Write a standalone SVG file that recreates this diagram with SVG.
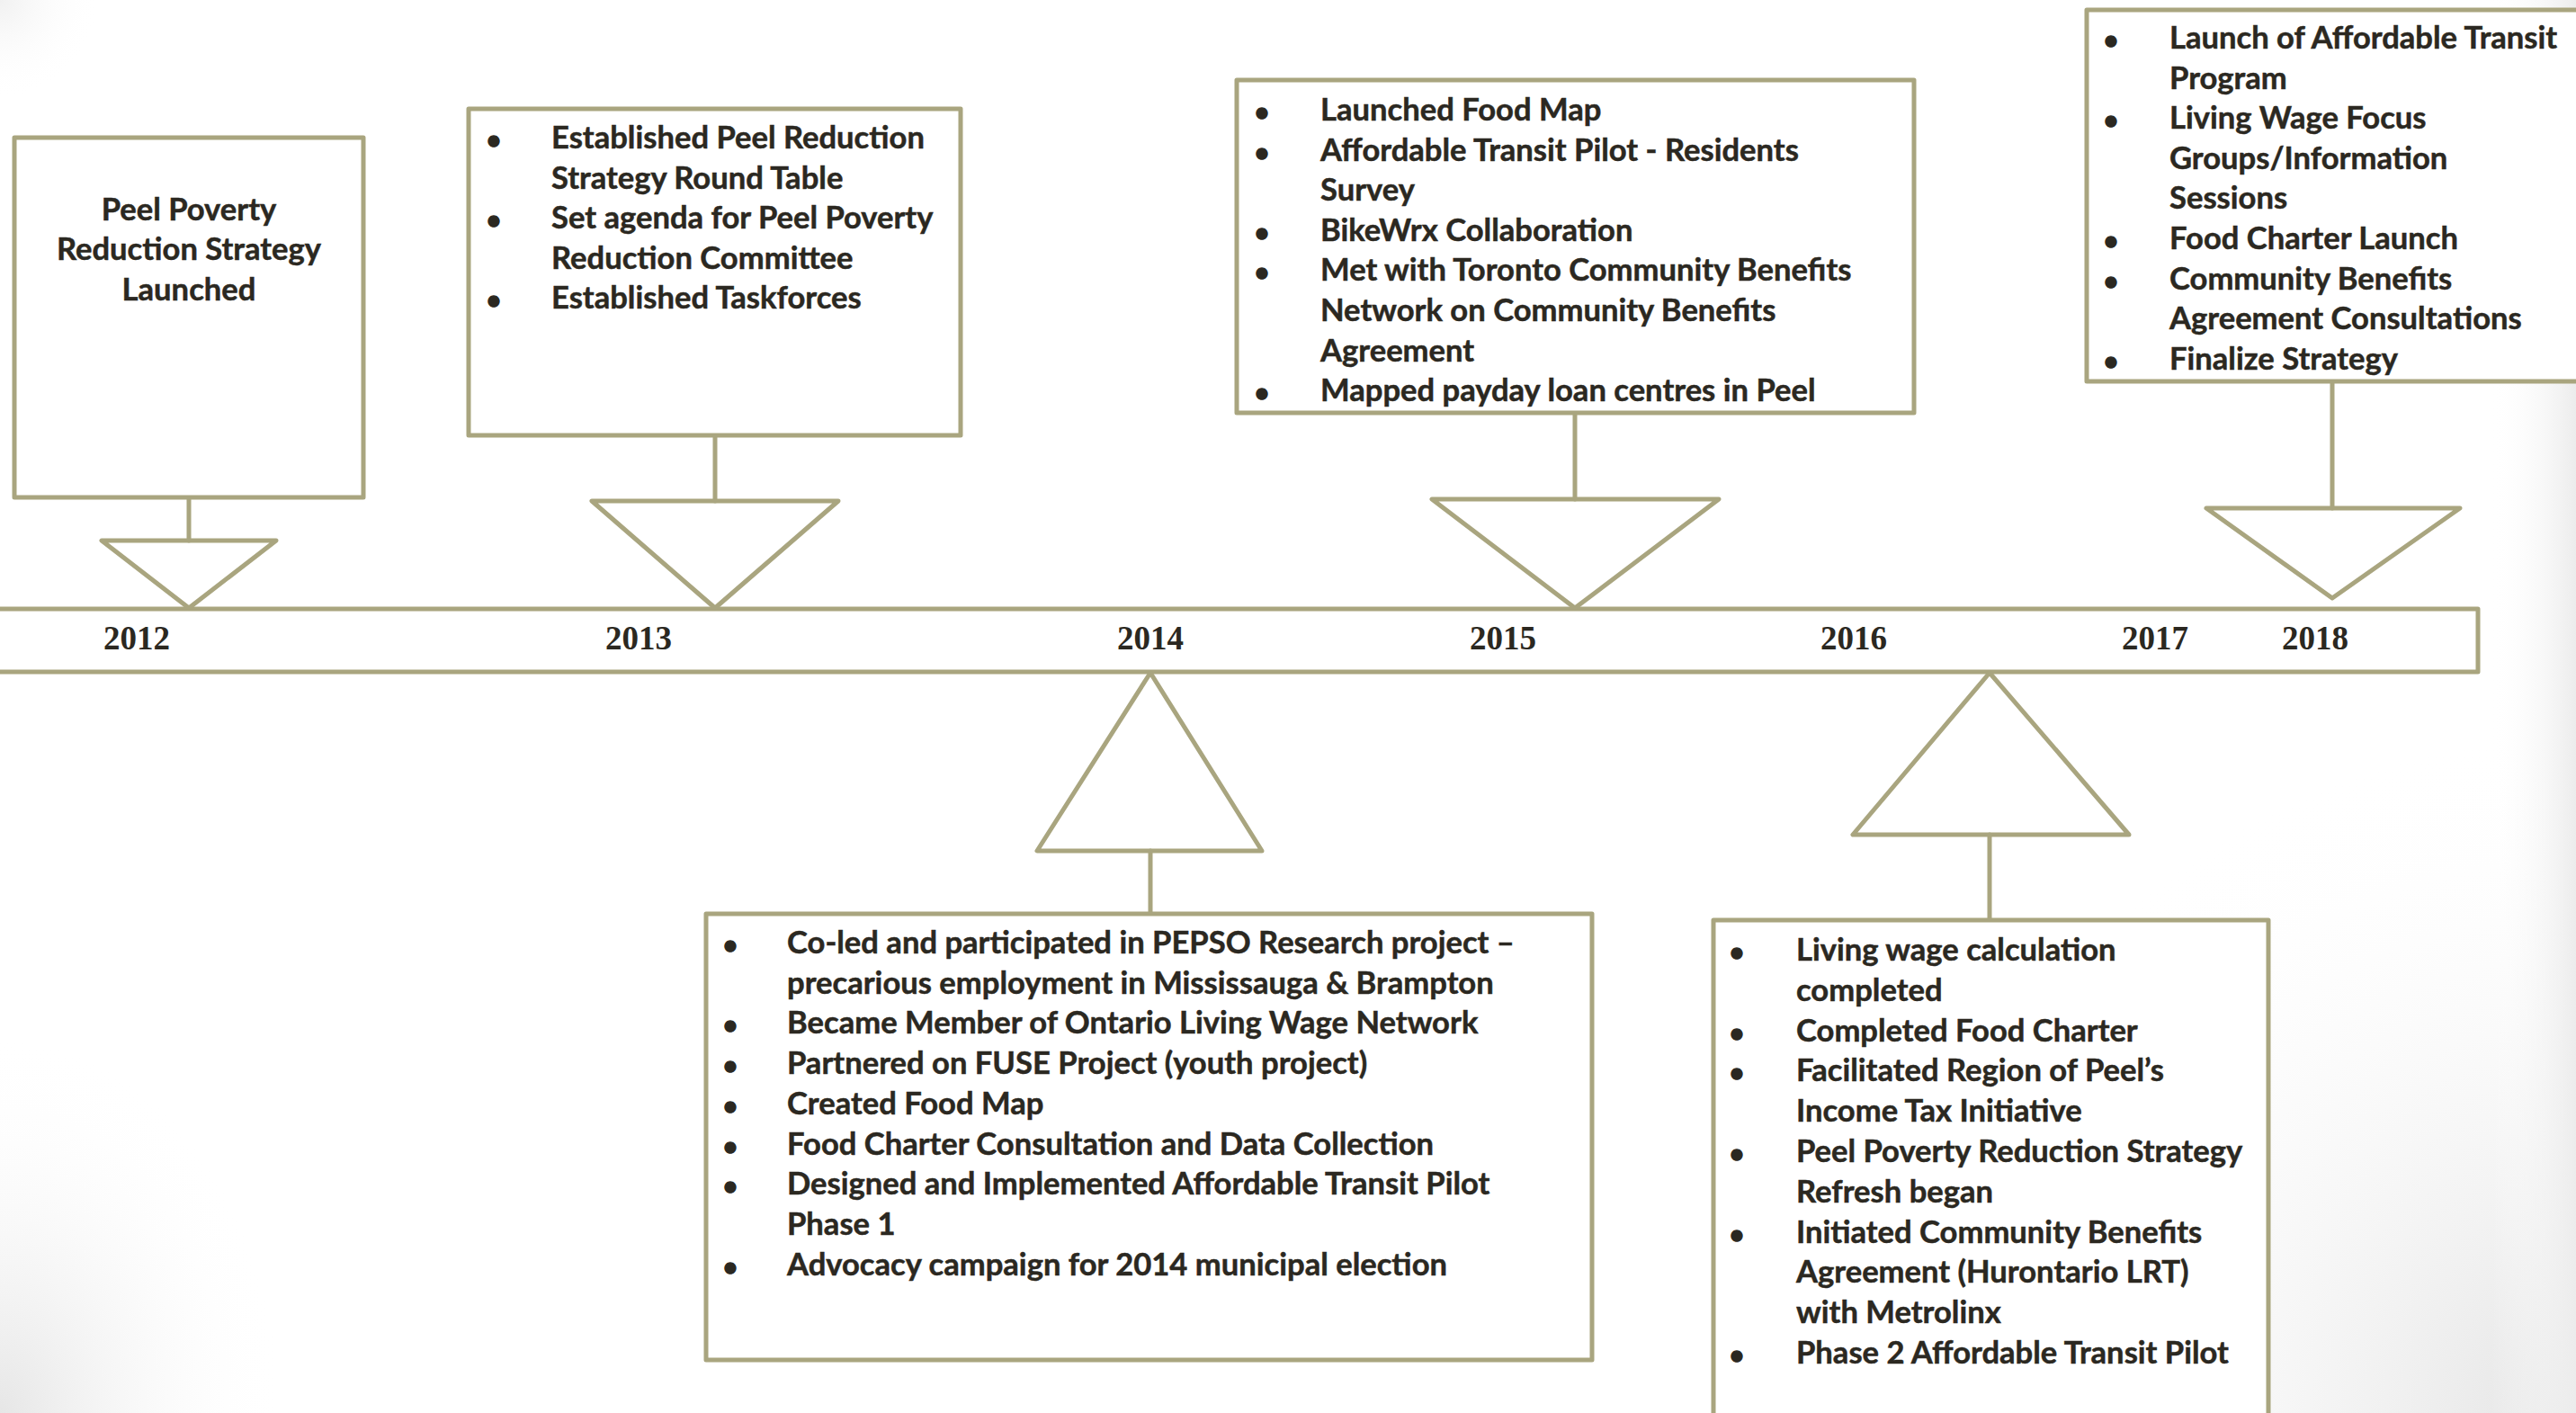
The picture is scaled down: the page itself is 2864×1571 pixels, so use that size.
<svg xmlns="http://www.w3.org/2000/svg" width="2864" height="1571" viewBox="0 0 2864 1571">
<defs>
<radialGradient id="gBR" cx="2864" cy="1571" r="760" gradientUnits="userSpaceOnUse">
<stop offset="0" stop-color="#e4e4e4"/>
<stop offset="1" stop-color="#ffffff" stop-opacity="0"/>
</radialGradient>
<linearGradient id="gR" x1="2770" y1="0" x2="2864" y2="0" gradientUnits="userSpaceOnUse">
<stop offset="0" stop-color="#ffffff" stop-opacity="0"/>
<stop offset="1" stop-color="#ececec"/>
</linearGradient>
<radialGradient id="gBL" cx="0" cy="1571" r="420" gradientUnits="userSpaceOnUse" gradientTransform="translate(0,1571) scale(0.75,1) translate(0,-1571)">
<stop offset="0" stop-color="#e6e6e6"/>
<stop offset="1" stop-color="#ffffff" stop-opacity="0"/>
</radialGradient>
<radialGradient id="gTL" cx="0" cy="0" r="110" gradientUnits="userSpaceOnUse">
<stop offset="0" stop-color="#f1f1f1"/>
<stop offset="1" stop-color="#ffffff" stop-opacity="0"/>
</radialGradient>
</defs>
<style>
.ln{fill:none;stroke:#A9A57F;stroke-width:5;stroke-linejoin:round;stroke-linecap:round}
.bx{fill:#ffffff;stroke:#A9A57F;stroke-width:5;stroke-linejoin:round}
.t{font-family:Lato,"Liberation Sans",sans-serif;font-weight:bold;font-size:34.6px;fill:#2B2821;stroke:#2B2821;stroke-width:0.5}
.c{text-anchor:middle}
.b{font-family:"Liberation Sans",Arial,sans-serif;font-size:44px;fill:#2B2821;stroke:#2B2821;stroke-width:1.4;text-anchor:middle}
.yr{font-family:"Liberation Serif","Times New Roman",serif;font-weight:bold;font-size:37px;fill:#2B2821;text-anchor:middle}
</style>
<rect x="0" y="0" width="2864" height="1571" fill="#ffffff"/>
<rect x="0" y="0" width="2864" height="1571" fill="url(#gBR)"/>
<rect x="0" y="0" width="2864" height="1571" fill="url(#gR)"/>
<rect x="0" y="0" width="2864" height="1571" fill="url(#gBL)"/>
<rect x="0" y="0" width="2864" height="1571" fill="url(#gTL)"/>

<g id="connectors">
<line class="ln" x1="210" y1="553" x2="210" y2="601"/>
<line class="ln" x1="795" y1="484" x2="795" y2="557"/>
<line class="ln" x1="1751" y1="459" x2="1751" y2="555"/>
<line class="ln" x1="2593" y1="424" x2="2593" y2="565"/>
<line class="ln" x1="1279" y1="946" x2="1279" y2="1016"/>
<line class="ln" x1="2212" y1="928" x2="2212" y2="1023"/>
</g>

<g id="timeline">
<rect class="bx" x="-10" y="677" width="2765" height="70"/>
<text class="yr" x="152" y="722">2012</text>
<text class="yr" x="710" y="722">2013</text>
<text class="yr" x="1279" y="722">2014</text>
<text class="yr" x="1671" y="722">2015</text>
<text class="yr" x="2061" y="722">2016</text>
<text class="yr" x="2396" y="722">2017</text>
<text class="yr" x="2574" y="722">2018</text>
</g>

<g id="marker-2012"><polygon class="ln" points="113,601 307,601 210,676"/></g>
<g id="marker-2013"><polygon class="ln" points="658,557 932,557 795,676"/></g>
<g id="marker-2015"><polygon class="ln" points="1592,555 1911,555 1751,676"/></g>
<g id="marker-2018"><polygon class="ln" points="2453,565 2735,565 2593,665"/></g>
<g id="marker-2014"><polygon class="ln" points="1279,748 1153,946 1403,946"/></g>
<g id="marker-2016"><polygon class="ln" points="2212,748 2060,928 2367,928"/></g>

<g id="box-2012">
<rect class="bx" x="16" y="153" width="388" height="400"/>
<text class="t c" x="210" y="245">Peel Poverty</text>
<text class="t c" x="210" y="289">Reduction Strategy</text>
<text class="t c" x="210" y="334">Launched</text>
</g>

<g id="box-2013">
<rect class="bx" x="521" y="121" width="547" height="363"/>
<text class="b" x="549" y="172">•</text>
<text class="t" x="613" y="165">Established Peel Reduction</text>
<text class="t" x="613" y="209.6">Strategy Round Table</text>
<text class="b" x="549" y="261">•</text>
<text class="t" x="613" y="254.2">Set agenda for Peel Poverty</text>
<text class="t" x="613" y="298.8">Reduction Committee</text>
<text class="b" x="549" y="350">•</text>
<text class="t" x="613" y="343.4">Established Taskforces</text>
</g>

<g id="box-2015">
<rect class="bx" x="1375" y="89" width="753" height="370"/>
<text class="b" x="1403" y="141">•</text>
<text class="t" x="1468" y="134">Launched Food Map</text>
<text class="b" x="1403" y="185.6">•</text>
<text class="t" x="1468" y="178.6">Affordable Transit Pilot - Residents</text>
<text class="t" x="1468" y="223.2">Survey</text>
<text class="b" x="1403" y="274.8">•</text>
<text class="t" x="1468" y="267.8">BikeWrx Collaboration</text>
<text class="b" x="1403" y="319.4">•</text>
<text class="t" x="1468" y="312.4">Met with Toronto Community Benefits</text>
<text class="t" x="1468" y="357">Network on Community Benefits</text>
<text class="t" x="1468" y="401.6">Agreement</text>
<text class="b" x="1403" y="453.2">•</text>
<text class="t" x="1468" y="446.2">Mapped payday loan centres in Peel</text>
</g>

<g id="box-2018">
<rect class="bx" x="2320" y="11" width="600" height="413"/>
<text class="b" x="2347" y="61">•</text>
<text class="t" x="2412" y="54">Launch of Affordable Transit</text>
<text class="t" x="2412" y="98.6">Program</text>
<text class="b" x="2347" y="150.2">•</text>
<text class="t" x="2412" y="143.2">Living Wage Focus</text>
<text class="t" x="2412" y="187.8">Groups/Information</text>
<text class="t" x="2412" y="232.4">Sessions</text>
<text class="b" x="2347" y="284">•</text>
<text class="t" x="2412" y="277">Food Charter Launch</text>
<text class="b" x="2347" y="328.6">•</text>
<text class="t" x="2412" y="321.6">Community Benefits</text>
<text class="t" x="2412" y="366.2">Agreement Consultations</text>
<text class="b" x="2347" y="417.8">•</text>
<text class="t" x="2412" y="410.8">Finalize Strategy</text>
</g>

<g id="box-2014">
<rect class="bx" x="785" y="1016" width="985" height="496"/>
<text class="b" x="812" y="1067">•</text>
<text class="t" x="875" y="1060">Co-led and participated in PEPSO Research project –</text>
<text class="t" x="875" y="1104.7">precarious employment in Mississauga &amp; Brampton</text>
<text class="b" x="812" y="1156.4">•</text>
<text class="t" x="875" y="1149.4">Became Member of Ontario Living Wage Network</text>
<text class="b" x="812" y="1201.1">•</text>
<text class="t" x="875" y="1194.1">Partnered on FUSE Project (youth project)</text>
<text class="b" x="812" y="1245.8">•</text>
<text class="t" x="875" y="1238.8">Created Food Map</text>
<text class="b" x="812" y="1290.5">•</text>
<text class="t" x="875" y="1283.5">Food Charter Consultation and Data Collection</text>
<text class="b" x="812" y="1335.2">•</text>
<text class="t" x="875" y="1328.2">Designed and Implemented Affordable Transit Pilot</text>
<text class="t" x="875" y="1372.9">Phase 1</text>
<text class="b" x="812" y="1424.6">•</text>
<text class="t" x="875" y="1417.6">Advocacy campaign for 2014 municipal election</text>
</g>

<g id="box-2016">
<rect class="bx" x="1905" y="1023" width="617" height="600"/>
<text class="b" x="1931" y="1075">•</text>
<text class="t" x="1997" y="1068">Living wage calculation</text>
<text class="t" x="1997" y="1112.8">completed</text>
<text class="b" x="1931" y="1164.6">•</text>
<text class="t" x="1997" y="1157.6">Completed Food Charter</text>
<text class="b" x="1931" y="1209.4">•</text>
<text class="t" x="1997" y="1202.4">Facilitated Region of Peel’s</text>
<text class="t" x="1997" y="1247.2">Income Tax Initiative</text>
<text class="b" x="1931" y="1299">•</text>
<text class="t" x="1997" y="1292">Peel Poverty Reduction Strategy</text>
<text class="t" x="1997" y="1336.8">Refresh began</text>
<text class="b" x="1931" y="1388.6">•</text>
<text class="t" x="1997" y="1381.6">Initiated Community Benefits</text>
<text class="t" x="1997" y="1426.4">Agreement (Hurontario LRT)</text>
<text class="t" x="1997" y="1471.2">with Metrolinx</text>
<text class="b" x="1931" y="1523">•</text>
<text class="t" x="1997" y="1516">Phase 2 Affordable Transit Pilot</text>
</g>
</svg>
